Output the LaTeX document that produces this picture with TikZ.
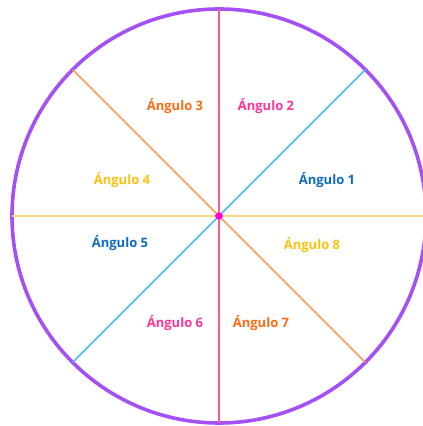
\documentclass[tikz,border=0pt]{standalone}
\usepackage{fontspec}
\setmainfont{Open Sans}
\usetikzlibrary{positioning, calc}

\definecolor{ringpurple}{HTML}{A450F5}
\definecolor{linepink}{HTML}{FF5C88}
\definecolor{lineyellow}{HTML}{FFD87A}
\definecolor{lineblue}{HTML}{4DBAF5}
\definecolor{lineorange}{HTML}{FF9A55}
\definecolor{dotmagenta}{HTML}{FF00D0}
\definecolor{txtorange}{HTML}{FF6A10}
\definecolor{txtpink}{HTML}{FF3399}
\definecolor{txtyellow}{HTML}{FFC010}
\definecolor{txtblue}{HTML}{0A6CC0}

\begin{document}
\begin{tikzpicture}[x=1pt, y=1pt,
  ring/.style={draw=ringpurple, line width=3.6pt},
  ray/.style={line width=1.7pt},
  centre/.style={circle, fill=dotmagenta, inner sep=0pt, minimum size=7.5pt},
  angl/.style={font=\fontsize{13}{15}\selectfont\bfseries, inner sep=1pt},
]

% === Frame (page size of the reference) ===
\useasboundingbox (-219,-210) rectangle (204,216);

% === Outer circle ===
\draw[ring] (0,0) circle (207);

% === Points where the rays meet the circle ===
\foreach \a in {0,45,...,315} {
  \coordinate (p\a) at (\a:207);
}

% === Centre ===
\node[centre] (o) at (0,0) {};

% === Rays (diameters) ===
\begin{scope}
  \draw[ray, lineyellow] (p180) -- (o) -- (p0);
  \draw[ray, lineblue] (p225) -- (o) -- (p45);
  \draw[ray, lineorange] (p135) -- (o) -- (p315);
  \draw[ray, linepink] (p270) -- (o) -- (p90);
\end{scope}
\node[centre] at (o) {};

% === Angle labels ===
\node[angl, text=txtblue]   (a1) at (108,36)   {Ángulo 1};
\node[angl, text=txtpink]   (a2) at (47,110)   {Ángulo 2};
\node[angl, text=txtorange] (a3) at (-44,110)  {Ángulo 3};
\node[angl, text=txtyellow] (a4) at (-97,36)   {Ángulo 4};
\node[angl, text=txtblue]   (a5) at (-99,-27)  {Ángulo 5};
\node[angl, text=txtpink]   (a6) at (-44,-107) {Ángulo 6};
\node[angl, text=txtorange] (a7) at (42,-107)  {Ángulo 7};
\node[angl, text=txtyellow] (a8) at (93,-29)   {Ángulo 8};

\end{tikzpicture}
\end{document}
